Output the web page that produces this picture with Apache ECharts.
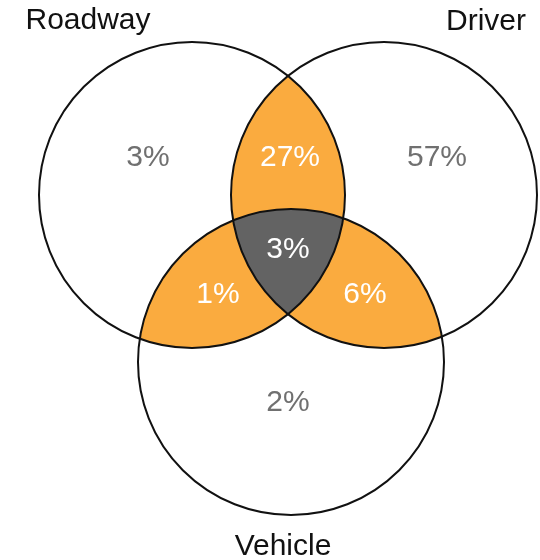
<!DOCTYPE html>
<html>
<head>
<meta charset="utf-8">
<script src="https://cdn.jsdelivr.net/npm/echarts/dist/echarts.min.js"></script>
<style>
  html, body { margin: 0; padding: 0; background: #fff; }
  #chart { width: 540px; height: 560px; }
</style>
</head>
<body>
<div id="chart"></div>
<script>
// sets and the share of crashes in each region of the diagram
const setNames = ['Roadway', 'Driver', 'Vehicle'];
const regionSets = [[0], [1], [2], [0, 1], [0, 2], [1, 2], [0, 1, 2]];
const regionShares = [3, 57, 2, 27, 1, 6, 3];

// layout (axis units = page pixels)
const circleAt = [[192, 195], [384, 195], [291, 362]];
const circleRadius = 153;
const setLabelAt = [[88, 21], [486, 22], [283, 547]];
const shareLabelAt = [[148, 158], [437, 158], [288, 403], [290, 158], [218, 295], [365, 295], [288, 250]];

const FONT = '30px "Liberation Sans", Arial, sans-serif';

function meet(a, b, r) {
    var dx = b[0] - a[0], dy = b[1] - a[1];
    var d = Math.hypot(dx, dy);
    var h = Math.sqrt(r * r - d * d / 4);
    var mx = (a[0] + b[0]) / 2, my = (a[1] + b[1]) / 2;
    var ux = -dy / d, uy = dx / d;
    return [[mx + ux * h, my + uy * h], [mx - ux * h, my - uy * h]];
}

function inside(p, c, r) {
    return Math.hypot(p[0] - c[0], p[1] - c[1]) < r;
}

// intersection of circles i and j, inside or outside of circle k
function corner(C, r, i, j, k, wantInside) {
    var pts = meet(C[i], C[j], r);
    return inside(pts[0], C[k], r) === wantInside ? pts[0] : pts[1];
}

// minor arc on circle c from p to q
function arc(c, r, p, q) {
    var a1 = Math.atan2(p[1] - c[1], p[0] - c[0]);
    var a2 = Math.atan2(q[1] - c[1], q[0] - c[0]);
    var d = a2 - a1;
    while (d > Math.PI) d -= 2 * Math.PI;
    while (d < -Math.PI) d += 2 * Math.PI;
    var out = [];
    var n = 60;
    for (var t = 0; t <= n; t++) {
        var a = a1 + d * t / n;
        out.push([c[0] + r * Math.cos(a), c[1] + r * Math.sin(a)]);
    }
    return out;
}

function regionPoints(sets, C, r) {
    if (sets.length === 3) {
        var ab = corner(C, r, 0, 1, 2, true);
        var bc = corner(C, r, 1, 2, 0, true);
        var ac = corner(C, r, 0, 2, 1, true);
        return arc(C[1], r, ab, bc)
            .concat(arc(C[2], r, bc, ac))
            .concat(arc(C[0], r, ac, ab));
    }
    var i = sets[0], j = sets[1];
    var k = [0, 1, 2].filter(function (s) { return s !== i && s !== j; })[0];
    var outer = corner(C, r, i, j, k, false);
    var jk = corner(C, r, j, k, i, true);
    var ik = corner(C, r, i, k, j, true);
    return arc(C[j], r, outer, jk)
        .concat(arc(C[k], r, jk, ik))
        .concat(arc(C[i], r, ik, outer));
}

function pixelCircles(api) {
    return {
        C: circleAt.map(function (c) { return api.coord(c); }),
        r: api.size([circleRadius, 0])[0]
    };
}

var chart = echarts.init(document.getElementById('chart'));

var option = {
    animation: false,
    backgroundColor: '#fff',
    grid: { left: 0, right: 0, top: 0, bottom: 0 },
    xAxis: { type: 'value', min: 0, max: 540, show: false },
    yAxis: { type: 'value', min: 0, max: 560, inverse: true, show: false },
    series: [
        {
            name: 'regions',
            type: 'custom',
            z: 1,
            data: regionShares.map(function (v, i) { return [i, v]; }),
            renderItem: function (params, api) {
                var sets = regionSets[api.value(0)];
                if (sets.length < 2) return { type: 'group', children: [] };
                var g = pixelCircles(api);
                return {
                    type: 'polygon',
                    shape: { points: regionPoints(sets, g.C, g.r) },
                    style: { fill: sets.length === 3 ? '#636363' : '#FAAB3F', stroke: 'none' }
                };
            }
        },
        {
            name: 'circles',
            type: 'custom',
            z: 2,
            data: setNames.map(function (s, i) { return [i]; }),
            renderItem: function (params, api) {
                var c = api.coord(circleAt[api.value(0)]);
                var r = api.size([circleRadius, 0])[0];
                return {
                    type: 'circle',
                    shape: { cx: c[0], cy: c[1], r: r },
                    style: { fill: 'none', stroke: '#111111', lineWidth: 2 }
                };
            }
        },
        {
            name: 'shares',
            type: 'custom',
            z: 3,
            data: regionShares.map(function (v, i) { return [i, v]; }),
            renderItem: function (params, api) {
                var idx = api.value(0);
                var p = api.coord(shareLabelAt[idx]);
                return {
                    type: 'text',
                    x: p[0], y: p[1],
                    style: {
                        text: api.value(1) + '%',
                        font: FONT,
                        fill: regionSets[idx].length > 1 ? '#ffffff' : '#707070',
                        textAlign: 'center', align: 'center',
                        textVerticalAlign: 'middle', verticalAlign: 'middle'
                    }
                };
            }
        },
        {
            name: 'setNames',
            type: 'custom',
            z: 3,
            data: setNames.map(function (s, i) { return [i]; }),
            renderItem: function (params, api) {
                var idx = api.value(0);
                var p = api.coord(setLabelAt[idx]);
                return {
                    type: 'text',
                    x: p[0], y: p[1],
                    style: {
                        text: setNames[idx],
                        font: FONT,
                        fill: '#111111',
                        textAlign: 'center', align: 'center',
                        textVerticalAlign: 'middle', verticalAlign: 'middle'
                    }
                };
            }
        }
    ]
};

chart.setOption(option);
</script>
</body>
</html>
